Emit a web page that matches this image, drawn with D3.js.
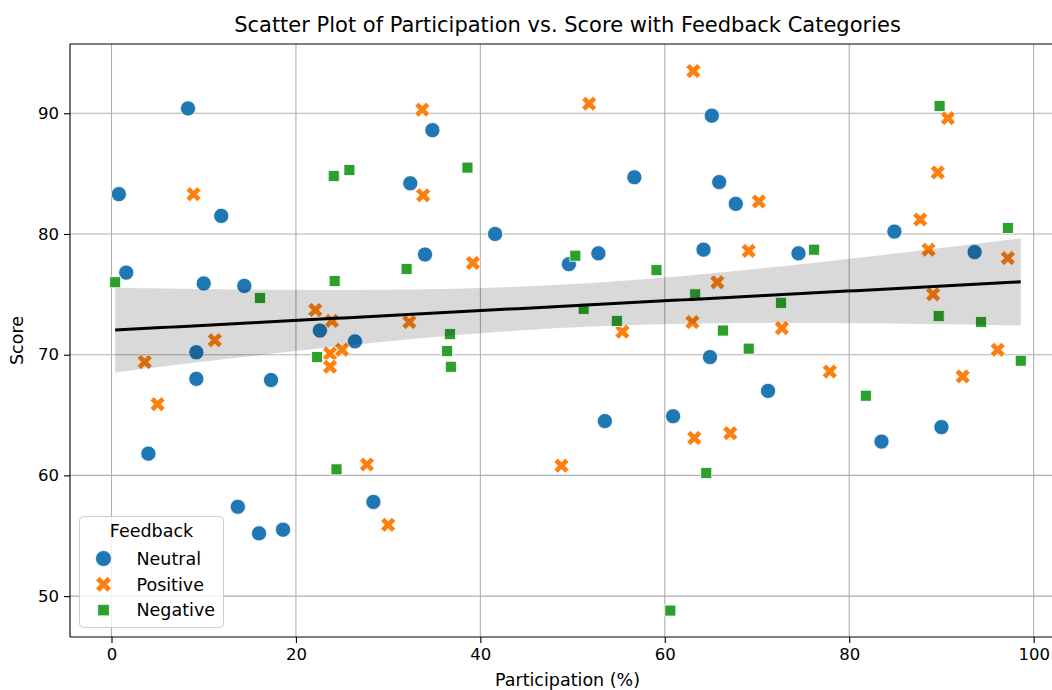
<!DOCTYPE html>
<html>
<head>
<meta charset="utf-8">
<script src="https://cdn.jsdelivr.net/npm/d3@7"></script>
<style>
  html, body { margin: 0; padding: 0; background: #fff; }
  svg { display: block; font-family: "DejaVu Sans", sans-serif; }
</style>
</head>
<body>
<svg id="chart" width="1052" height="690"></svg>
<script>
// ---- data ----
const categories = ["Neutral", "Positive", "Negative"];
const neutralX = [8.3, 0.8, 11.9, 1.6, 10.0, 14.4, 22.6, 26.4, 9.2, 9.2, 17.3, 4.0, 13.7, 16.0, 18.6, 28.4, 34.8, 32.4, 34.0, 41.6, 49.6, 52.8, 56.7, 65.1, 65.9, 67.7, 64.2, 74.5, 84.9, 93.6, 53.5, 60.9, 64.9, 71.2, 83.5, 90.0];
const neutralY = [90.4, 83.3, 81.5, 76.8, 75.9, 75.7, 72.0, 71.1, 70.2, 68.0, 67.9, 61.8, 57.4, 55.2, 55.5, 57.8, 88.6, 84.2, 78.3, 80.0, 77.5, 78.4, 84.7, 89.8, 84.3, 82.5, 78.7, 78.4, 80.2, 78.5, 64.5, 64.9, 69.8, 67.0, 62.8, 64.0];
const positiveX = [8.9, 22.1, 23.9, 11.2, 3.6, 23.7, 23.7, 25.0, 5.0, 27.7, 30.0, 33.7, 33.8, 39.2, 51.8, 63.1, 32.3, 55.4, 63.0, 65.7, 90.7, 89.6, 87.7, 70.2, 69.1, 88.6, 97.2, 89.1, 72.7, 77.9, 67.1, 92.3, 96.1, 48.8, 63.2];
const positiveY = [83.3, 73.7, 72.8, 71.2, 69.4, 70.1, 69.0, 70.4, 65.9, 60.9, 55.9, 90.3, 83.2, 77.6, 90.8, 93.5, 72.7, 71.9, 72.7, 76.0, 89.6, 85.1, 81.2, 82.7, 78.6, 78.7, 78.0, 75.0, 72.2, 68.6, 63.5, 68.2, 70.4, 60.8, 63.1];
const negativeX = [24.1, 25.8, 0.4, 16.1, 24.2, 38.6, 32.0, 50.3, 59.1, 63.3, 51.2, 54.8, 36.7, 66.3, 36.4, 36.8, 64.5, 60.6, 22.3, 24.4, 89.8, 97.2, 76.2, 72.6, 89.7, 94.3, 69.1, 81.8, 98.6];
const negativeY = [84.8, 85.3, 76.0, 74.7, 76.1, 85.5, 77.1, 78.2, 77.0, 75.0, 73.8, 72.8, 71.7, 72.0, 70.3, 69.0, 60.2, 48.8, 69.8, 60.5, 90.6, 80.5, 78.7, 74.3, 73.2, 72.7, 70.5, 66.6, 69.5];
const xTicks = [0, 20, 40, 60, 80, 100];
const yTicks = [50, 60, 70, 80, 90];
const colors = ["#1f77b4", "#ff7f0e", "#2ca02c"];
const titleText = "Scatter Plot of Participation vs. Score with Feedback Categories";
const xLabel = "Participation (%)";
const yLabel = "Score";
const legendTitle = "Feedback";

// ---- layout ----
const svg = d3.select("#chart");
const L = 70, R = 1065, T = 44, B = 637;
const x = d3.scaleLinear().domain([-4.5, 103.4]).range([L, R]);
const y = d3.scaleLinear().domain([46.61, 95.74]).range([B, T]);

const series = [
  { name: categories[0], xs: neutralX, ys: neutralY, color: colors[0], shape: "circle" },
  { name: categories[1], xs: positiveX, ys: positiveY, color: colors[1], shape: "x" },
  { name: categories[2], xs: negativeX, ys: negativeY, color: colors[2], shape: "square" }
];

// filled X path (matplotlib 'X' style)
function xPath(size) {
  const s = size / 4;
  const pts = [[-1,-2],[0,-1],[1,-2],[2,-1],[1,0],[2,1],[1,2],[0,1],[-1,2],[-2,1],[-1,0],[-2,-1]];
  return "M" + pts.map(p => (p[0]*s) + "," + (p[1]*s)).join("L") + "Z";
}
function drawMarker(g, shape, color, cx, cy, scale) {
  scale = scale || 1;
  if (shape === "circle") {
    g.append("circle").attr("cx", cx).attr("cy", cy).attr("r", 7.6 * scale)
      .attr("fill", color).attr("stroke", "#fff").attr("stroke-width", 0.8);
  } else if (shape === "x") {
    g.append("path").attr("d", xPath(15 * scale)).attr("transform", `translate(${cx},${cy})`)
      .attr("fill", color).attr("stroke", "#fff").attr("stroke-width", 0.8);
  } else {
    const s = 11 * scale;
    g.append("rect").attr("x", cx - s/2).attr("y", cy - s/2).attr("width", s).attr("height", s)
      .attr("fill", color).attr("stroke", "#fff").attr("stroke-width", 0.8);
  }
}

svg.append("defs").append("clipPath").attr("id", "clip")
  .append("rect").attr("x", L).attr("y", T).attr("width", R - L).attr("height", B - T);

// grid
const grid = svg.append("g");
xTicks.forEach(t => grid.append("line").attr("x1", x(t)).attr("x2", x(t)).attr("y1", T).attr("y2", B)
  .attr("stroke", "#b0b0b0").attr("stroke-width", 1.1));
yTicks.forEach(t => grid.append("line").attr("x1", L).attr("x2", R).attr("y1", y(t)).attr("y2", y(t))
  .attr("stroke", "#b0b0b0").attr("stroke-width", 1.1));

// points
const pts = svg.append("g").attr("clip-path", "url(#clip)");
series.forEach(s => {
  s.xs.forEach((xv, i) => drawMarker(pts, s.shape, s.color, x(xv), y(s.ys[i])));
});

// regression (OLS on all points) with 95% CI band
const allX = [].concat(neutralX, positiveX, negativeX);
const allY = [].concat(neutralY, positiveY, negativeY);
const n = allX.length;
const mx = d3.mean(allX), my = d3.mean(allY);
let sxx = 0, sxy = 0;
for (let i = 0; i < n; i++) { sxx += (allX[i]-mx)**2; sxy += (allX[i]-mx)*(allY[i]-my); }
const slope = sxy / sxx, intercept = my - slope * mx;
let sse = 0;
for (let i = 0; i < n; i++) { const r = allY[i] - (intercept + slope*allX[i]); sse += r*r; }
const sres = Math.sqrt(sse / (n - 2));
const tval = 1.9845;
const [xmin, xmax] = d3.extent(allX);
const grid100 = d3.range(100).map(i => xmin + (xmax - xmin) * i / 99);
const band = grid100.map(xv => {
  const yh = intercept + slope * xv;
  const se = sres * Math.sqrt(1/n + (xv-mx)**2 / sxx);
  return { x: xv, y: yh, lo: yh - tval*se, hi: yh + tval*se };
});
const reg = svg.append("g").attr("clip-path", "url(#clip)");
reg.append("path").datum(band)
  .attr("d", d3.area().x(d => x(d.x)).y0(d => y(d.lo)).y1(d => y(d.hi)))
  .attr("fill", "#000").attr("fill-opacity", 0.15);
reg.append("path").datum(band)
  .attr("d", d3.line().x(d => x(d.x)).y(d => y(d.y)))
  .attr("fill", "none").attr("stroke", "#000").attr("stroke-width", 3);

// spines
svg.append("line").attr("x1", L).attr("x2", L).attr("y1", T).attr("y2", B).attr("stroke", "#000").attr("stroke-width", 1.1);
svg.append("line").attr("x1", L).attr("x2", R).attr("y1", B).attr("y2", B).attr("stroke", "#000").attr("stroke-width", 1.1);
svg.append("line").attr("x1", L).attr("x2", R).attr("y1", T).attr("y2", T).attr("stroke", "#000").attr("stroke-width", 1.1);
svg.append("line").attr("x1", R).attr("x2", R).attr("y1", T).attr("y2", B).attr("stroke", "#000").attr("stroke-width", 1.1);

// axes
const xAxis = d3.axisBottom(x).tickValues(xTicks).tickSize(6).tickPadding(5).tickFormat(d3.format("d"));
const yAxis = d3.axisLeft(y).tickValues(yTicks).tickSize(6).tickPadding(5).tickFormat(d3.format("d"));
const gx = svg.append("g").attr("transform", `translate(0,${B})`).call(xAxis);
const gy = svg.append("g").attr("transform", `translate(${L},0)`).call(yAxis);
[gx, gy].forEach(g => {
  g.select(".domain").remove();
  g.selectAll(".tick line").attr("stroke", "#000").attr("stroke-width", 1.1);
  g.selectAll(".tick text").attr("fill", "#000").style("font-size", "16.5px").style("font-family", "DejaVu Sans");
});

// labels
svg.append("text").attr("x", (L + R) / 2).attr("y", 32).attr("text-anchor", "middle")
  .style("font-size", "21px").attr("fill", "#000").text(titleText);
svg.append("text").attr("x", (L + R) / 2).attr("y", 686).attr("text-anchor", "middle")
  .style("font-size", "17.5px").attr("fill", "#000").text(xLabel);
svg.append("text").attr("transform", `translate(23,${(T + B) / 2}) rotate(-90)`).attr("text-anchor", "middle")
  .style("font-size", "17.5px").attr("fill", "#000").text(yLabel);

// legend
const lg = svg.append("g");
lg.append("rect").attr("x", 79.5).attr("y", 516.5).attr("width", 144).attr("height", 111).attr("rx", 4)
  .attr("fill", "#fff").attr("fill-opacity", 0.8).attr("stroke", "#cccccc").attr("stroke-width", 1);
lg.append("text").attr("x", 151.5).attr("y", 537).attr("text-anchor", "middle")
  .style("font-size", "17.5px").attr("fill", "#000").text(legendTitle);
series.forEach((s, i) => {
  const cy = 558.5 + i * 25.8;
  drawMarker(lg, s.shape, s.color, 103.5, cy, i === 2 ? 1.05 : 1.05);
  lg.append("text").attr("x", 136.5).attr("y", cy + 6.3)
    .style("font-size", "17.5px").attr("fill", "#000").text(s.name);
});
</script>
</body>
</html>
